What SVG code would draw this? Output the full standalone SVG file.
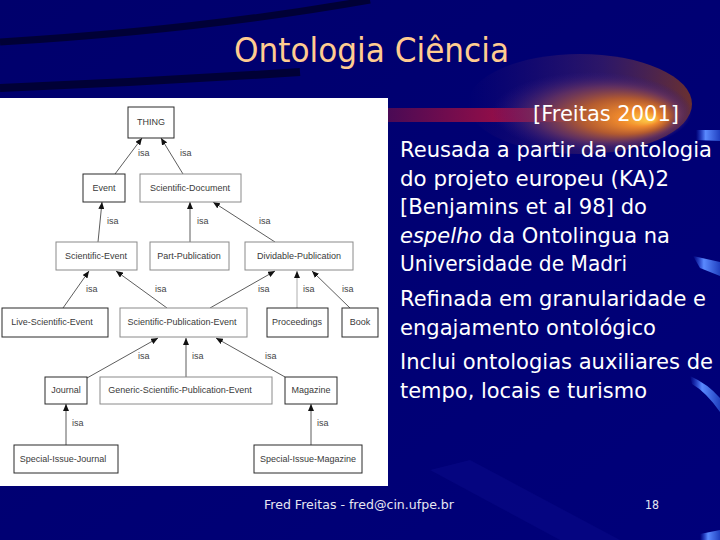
<svg xmlns="http://www.w3.org/2000/svg" width="720" height="540" viewBox="0 0 720 540">
<defs>
<style>
.node rect{fill:#fff;stroke:#2a2a2a;stroke-width:1}
.node rect.lt{stroke:#8a8a8a}
.node text{font-family:"Liberation Sans",Arial,sans-serif;font-size:9px;fill:#3a3a3a;text-anchor:middle}
.isa{font-family:"Liberation Sans",Arial,sans-serif;font-size:9px;fill:#444}
.conn line{stroke:#333;stroke-width:0.8;marker-end:url(#arr)}
.body{font-family:"DejaVu Sans","Liberation Sans",sans-serif;font-size:21px;fill:#fff}
</style>
<marker id="arr" markerWidth="7" markerHeight="6" refX="7" refY="3" orient="auto" markerUnits="userSpaceOnUse"><path d="M0,0 L7,3 L0,6 z" fill="#111"/></marker>
<linearGradient id="bg" x1="0" y1="0" x2="1" y2="1"><stop offset="0" stop-color="#00006c"/><stop offset="1" stop-color="#00007a"/></linearGradient>
<radialGradient id="glow" cx="0.5" cy="0.5" r="0.5" fx="0.8" fy="0.6"><stop offset="0" stop-color="#ffd24a"/><stop offset="0.2" stop-color="#f08a2c"/><stop offset="0.45" stop-color="#b25a30"/><stop offset="0.7" stop-color="#6a3560" stop-opacity="0.8"/><stop offset="1" stop-color="#301a80" stop-opacity="0"/></radialGradient>
<linearGradient id="rim" x1="0" y1="0" x2="1" y2="0"><stop offset="0" stop-color="#3a1a70" stop-opacity="0"/><stop offset="0.6" stop-color="#4a2560" stop-opacity="0.6"/><stop offset="1" stop-color="#6a3030"/></linearGradient>
<linearGradient id="band" x1="0" y1="0" x2="1" y2="0"><stop offset="0" stop-color="#4a0a55"/><stop offset="1" stop-color="#c01040"/></linearGradient>
<linearGradient id="streak" x1="0" y1="0" x2="1" y2="0"><stop offset="0" stop-color="#3060ff" stop-opacity="0"/><stop offset="0.4" stop-color="#5a8aff"/><stop offset="1" stop-color="#2040c0"/></linearGradient>
</defs>
<rect width="720" height="540" fill="url(#bg)"/>
<path d="M0,42 Q200,30 370,0" fill="none" stroke="#000028" stroke-width="7" opacity="0.8"/>
<path d="M0,88 Q150,82 300,72" fill="none" stroke="#000028" stroke-width="8" opacity="0.8"/>
<path d="M430,470 L560,540 L620,540 L470,460 z" fill="#0a0a8a" opacity="0.5"/>
<ellipse cx="580" cy="104" rx="112" ry="50" fill="url(#rim)"/>
<rect x="388" y="108" width="180" height="14" fill="url(#band)"/>
<ellipse cx="592" cy="112" rx="100" ry="40" fill="url(#glow)"/>
<path d="M696,130 L720,130 L720,141 L696,140 z" fill="url(#streak)"/>
<path d="M693,256 L720,262 L720,276 L700,268 z" fill="url(#streak)"/>
<path d="M690,376 Q708,384 720,398 L720,412 Q706,392 692,384 z" fill="url(#streak)"/>
<path d="M700,534 L720,530 L720,540 L700,540 z" fill="url(#streak)"/>
<text x="234" y="62" font-family="DejaVu Sans,'Liberation Sans',sans-serif" font-size="34" fill="#ffcc90" textLength="275" lengthAdjust="spacingAndGlyphs">Ontologia Ciência</text>
<rect x="0" y="98" width="388" height="388" fill="#fff"/>
<g class="conn">
<line x1="115" y1="174" x2="142" y2="138"/>
<line x1="183" y1="174" x2="161" y2="138"/>
<line x1="98" y1="242" x2="102" y2="202"/>
<line x1="190" y1="242" x2="190" y2="202"/>
<line x1="275" y1="242" x2="213" y2="202"/>
<line x1="63" y1="308" x2="89" y2="271"/>
<line x1="167" y1="308" x2="116" y2="271"/>
<line x1="210" y1="308" x2="275" y2="271"/>
<line x1="297" y1="308" x2="297" y2="271" style="stroke:#999"/>
<line x1="350" y1="308" x2="312" y2="271"/>
<line x1="87" y1="378" x2="158" y2="338"/>
<line x1="186" y1="377" x2="186" y2="338"/>
<line x1="285" y1="377" x2="216" y2="338"/>
<line x1="66" y1="445" x2="66" y2="404"/>
<line x1="311" y1="445" x2="311" y2="404"/>
</g>
<g>
<text class="isa" x="138" y="156">isa</text>
<text class="isa" x="180" y="156">isa</text>
<text class="isa" x="107" y="224">isa</text>
<text class="isa" x="197" y="224">isa</text>
<text class="isa" x="259" y="224">isa</text>
<text class="isa" x="86" y="292">isa</text>
<text class="isa" x="155" y="292">isa</text>
<text class="isa" x="258" y="292">isa</text>
<text class="isa" x="303" y="292">isa</text>
<text class="isa" x="342" y="292">isa</text>
<text class="isa" x="138" y="359">isa</text>
<text class="isa" x="192" y="359">isa</text>
<text class="isa" x="265" y="359">isa</text>
<text class="isa" x="72" y="426">isa</text>
<text class="isa" x="317" y="426">isa</text>
</g>
<g id="thing" class="node"><rect x="128" y="107" width="46" height="31"/><text x="151" y="125">THING</text></g>
<g id="event" class="node"><rect x="83" y="174" width="42" height="28"/><text x="104" y="191">Event</text></g>
<g id="sci-doc" class="node"><rect class="lt" x="140" y="174" width="101" height="28"/><text x="190" y="191">Scientific-Document</text></g>
<g id="sci-event" class="node"><rect class="lt" x="56" y="242" width="81" height="28"/><text x="96" y="259">Scientific-Event</text></g>
<g id="part-pub" class="node"><rect class="lt" x="150" y="242" width="79" height="28"/><text x="189" y="259">Part-Publication</text></g>
<g id="div-pub" class="node"><rect class="lt" x="245" y="242" width="108" height="28"/><text x="299" y="259">Dividable-Publication</text></g>
<g id="live-sci-event" class="node"><rect x="2" y="308" width="106" height="29"/><text x="52" y="325">Live-Scientific-Event</text></g>
<g id="sci-pub-event" class="node"><rect class="lt" x="120" y="308" width="127" height="29"/><text x="182" y="325">Scientific-Publication-Event</text></g>
<g id="proceedings" class="node"><rect x="267" y="308" width="61" height="29"/><text x="297" y="325">Proceedings</text></g>
<g id="book" class="node"><rect x="342" y="308" width="36" height="29"/><text x="360" y="325">Book</text></g>
<g id="journal" class="node"><rect x="45" y="377" width="42" height="27"/><text x="66" y="393">Journal</text></g>
<g id="generic" class="node"><rect class="lt" x="100" y="377" width="172" height="27"/><text x="180" y="393">Generic-Scientific-Publication-Event</text></g>
<g id="magazine" class="node"><rect x="285" y="377" width="52" height="27"/><text x="311" y="393">Magazine</text></g>
<g id="si-journal" class="node"><rect x="14" y="445" width="104" height="28"/><text x="63" y="462">Special-Issue-Journal</text></g>
<g id="si-magazine" class="node"><rect x="254" y="445" width="108" height="28"/><text x="308" y="462">Special-Issue-Magazine</text></g>
<g>
<text class="body" x="533" y="121" textLength="146" lengthAdjust="spacingAndGlyphs">[Freitas 2001]</text>
<text class="body" x="400" y="157" textLength="312" lengthAdjust="spacingAndGlyphs">Reusada a partir da ontologia</text>
<text class="body" x="400" y="185.5" textLength="269" lengthAdjust="spacingAndGlyphs">do projeto europeu (KA)2</text>
<text class="body" x="400" y="214" textLength="247" lengthAdjust="spacingAndGlyphs">[Benjamins et al 98] do</text>
<text class="body" x="400" y="242.5" textLength="270" lengthAdjust="spacingAndGlyphs"><tspan font-style="italic">espelho</tspan> da Ontolingua na</text>
<text class="body" x="400" y="271" textLength="227" lengthAdjust="spacingAndGlyphs">Universidade de Madri</text>
<text class="body" x="400" y="306" textLength="306" lengthAdjust="spacingAndGlyphs">Refinada em granularidade e</text>
<text class="body" x="400" y="334.5" textLength="256" lengthAdjust="spacingAndGlyphs">engajamento ontológico</text>
<text class="body" x="400" y="369" textLength="313" lengthAdjust="spacingAndGlyphs">Inclui ontologias auxiliares de</text>
<text class="body" x="400" y="397.5" textLength="247" lengthAdjust="spacingAndGlyphs">tempo, locais e turismo</text>
</g>
<text x="264" y="509" font-family="DejaVu Sans,'Liberation Sans',sans-serif" font-size="12.5" fill="#e6e6f2" textLength="190" lengthAdjust="spacingAndGlyphs">Fred Freitas - fred@cin.ufpe.br</text>
<text x="645" y="509" font-family="DejaVu Sans,'Liberation Sans',sans-serif" font-size="12.5" fill="#e6e6f2" textLength="14" lengthAdjust="spacingAndGlyphs">18</text>
</svg>
